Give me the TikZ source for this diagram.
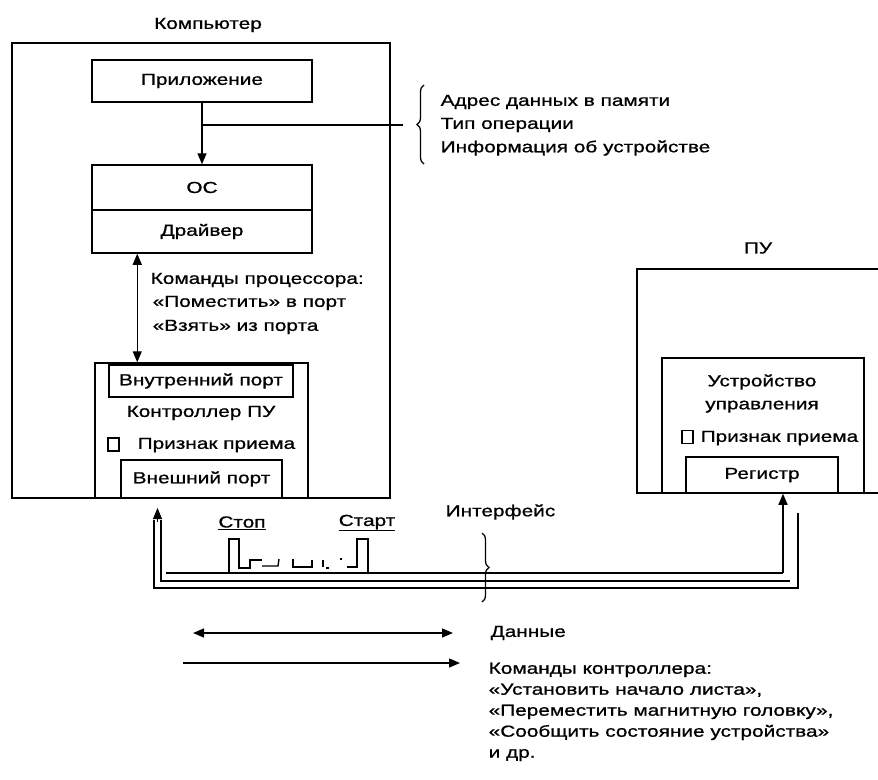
\documentclass[tikz,border=0pt]{standalone}
\usepackage{fontspec}
\setmainfont{Liberation Sans}[FakeStretch=1.3,FakeBold=0.9]
\usetikzlibrary{arrows.meta,decorations.pathreplacing}
\begin{document}
\begin{tikzpicture}[x=1pt,y=-1pt, line width=1.4pt,
  box/.style={draw, line width=1.5pt, inner sep=0pt, font=\fontsize{16}{19}\selectfont},
  lbl/.style={inner sep=0pt, font=\fontsize{16}{19}\selectfont},
  tip/.style={-{Triangle[length=11pt,width=9pt]}},
  dbl/.style={{Triangle[length=11pt,width=9pt]}-{Triangle[length=11pt,width=9pt]}},
  chk/.style={draw, line width=1.4pt, minimum width=11pt, minimum height=13pt, inner sep=0pt},
  wire/.style={line width=1.4pt},
  brc/.style={decorate, decoration={brace, amplitude=7pt}, line width=1.3pt}]
\useasboundingbox (0,0) rectangle (878,779);

% ---------- Computer ----------
\node[box, minimum width=378pt, minimum height=455pt] (comp) at (201,270.5) {};
\node[lbl] (compt) at (208,25) {Компьютер};
\node[box, minimum width=220pt, minimum height=42pt] (app) at (202,81) {Приложение};
\node[box, minimum width=220pt, minimum height=45pt] (os) at (202,187.5) {ОС};
\node[box, minimum width=220pt, minimum height=43pt] (drv) at (202,231.5) {Драйвер};

\draw[tip] (app.south) -- (os.north);
\coordinate (br) at (202,125);
\coordinate (brend) at (403,125);
\draw (br) -- (brend);
\draw[brc] (424,164) -- (424,85);
\node[lbl, anchor=west] (i1) at (440,102) {Адрес данных в памяти};
\node[lbl, anchor=west] (i2) at (440,125) {Тип операции};
\node[lbl, anchor=west] (i3) at (440,148) {Информация об устройстве};

% controller
\node[box, minimum width=213pt, minimum height=135pt] (ctrl) at (201.5,430.5) {};
\node[box, minimum width=184pt, minimum height=32pt] (inport) at (201,381) {Внутренний порт};
\node[lbl] (ctrlt) at (201,413) {Контроллер ПУ};
\node[chk] (cb1) at (113.5,444.5) {};
\node[lbl, anchor=west] (cbt1) at (137,445) {Признак приема};
\node[box, minimum width=161pt, minimum height=38pt] (outport) at (201.5,479) {Внешний порт};

\draw[dbl] ([xshift=46pt]drv.south west) -- ([xshift=46pt]drv.south west |- ctrl.north);
\node[lbl, anchor=west] (pc1) at (150,280) {Команды процессора:};
\node[lbl, anchor=west] (pc2) at (152,303) {«Поместить» в порт};
\node[lbl, anchor=west] (pc3) at (152,327) {«Взять» из порта};

% ---------- Peripheral device ----------
\node[box, minimum width=263pt, minimum height=224pt] (pu) at (768.5,381) {};
\node[lbl] (put) at (758,248) {ПУ};
\node[box, minimum width=202pt, minimum height=135pt] (uu) at (763,425.5) {};
\node[lbl, align=center, font=\fontsize{16}{23}\selectfont] (uut) at (762,393.5) {Устройство\\управления};
\node[chk] (cb2) at (687.5,437) {};
\node[lbl, anchor=west] (cbt2) at (700,438) {Признак приема};
\node[box, minimum width=152pt, minimum height=36pt] (reg) at (762,475) {Регистр};

% ---------- Interface wires ----------
\coordinate (la) at (154,520);
\coordinate (lb) at (161,520);
\coordinate (la2) at (154,588);
\coordinate (lb2) at (161,581);
\coordinate (t1) at (166,573);
\coordinate (r1) at (783,573);
\coordinate (r2) at (790,581);
\coordinate (r3) at (798,588);
\coordinate (r3t) at (798,513);
\draw[wire] (la) -- (la2) -- (r3) -- (r3t);
\draw[wire] (lb) -- (lb2) -- (r2);
\draw[wire] (t1) -- (r1);
\draw[wire, tip] (r1) -- (r1 |- pu.south);
\draw[tip, line width=0.8pt] (157.5,522) -- (157.5,508);

% waveform
\draw[line width=1.4pt] (229,573) -- (229,539) -- (239,539) -- (239,568) -- (250,568) -- (250,560) -- (262,560);
\draw[line width=1.4pt] (262,566) -- (278,566) -- (279,559);
\draw[line width=1.4pt] (293,559) -- (293,567) -- (312,567) -- (312,560);
\draw[line width=1.4pt] (323,560) -- (323,567) (326,568) -- (329,568);
\draw[line width=1.4pt] (340,559) -- (342,559);
\draw[line width=1.4pt] (347,567) -- (357,567) -- (357,539) -- (368,539) -- (368,573);
\node[lbl] (stop) at (242,523) {\underline{Стоп}};
\node[lbl] (start) at (367,523) {\underline{Старт}};
\node[lbl, anchor=west] (intf) at (445,512) {Интерфейс};
\draw[brc] (482,533) -- (482,602);

% ---------- Legend ----------
\coordinate (d1) at (193,633);
\coordinate (d2) at (453,633);
\draw[dbl] (d1) -- (d2);
\node[lbl, anchor=west] (dt) at (490,633) {Данные};
\coordinate (c1) at (183,663);
\coordinate (c2) at (460,663);
\draw[tip] (c1) -- (c2);
\node[lbl, anchor=north west, align=left, font=\fontsize{16}{21}\selectfont] (ct) at (488,662)
  {Команды контроллера:\\«Установить начало листа»,\\«Переместить магнитную головку»,\\«Сообщить состояние устройства»\\и др.};
\end{tikzpicture}
\end{document}
